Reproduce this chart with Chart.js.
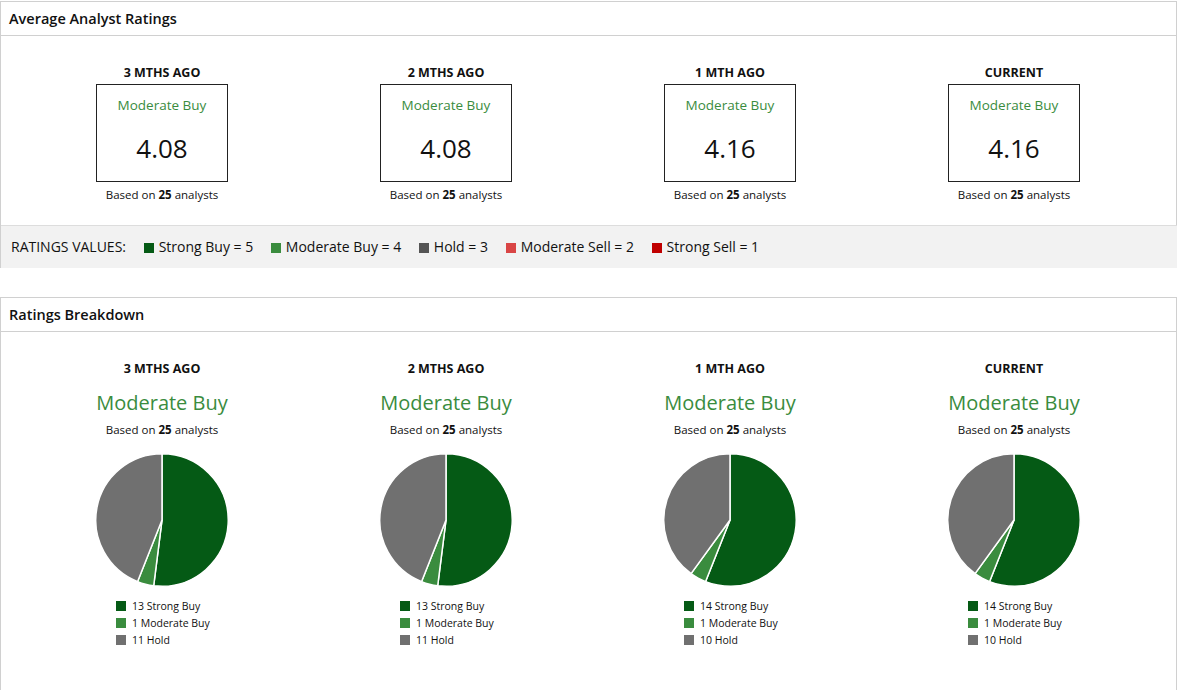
<!DOCTYPE html>
<html>
<head>
<meta charset="utf-8">
<script src="https://cdn.jsdelivr.net/npm/chart.js@4/dist/chart.umd.min.js"></script>
<style>
  body { margin: 0; width: 1177px; height: 690px; background: #fff; font-family: "Open Sans", "Noto Sans", sans-serif; color: #111; position: relative; overflow: hidden; }
  .panel { position: absolute; left: 0; width: 1175px; border: 1px solid #d0d0d0; }
  .hdr { height: 33px; border-bottom: 1px solid #d0d0d0; font-weight: 600; font-size: 14.5px; line-height: 33px; padding-left: 8px; }
  .abs { position: absolute; text-align: center; width: 260px; }
  .ttl { font-weight: 700; font-size: 12.5px; }
  .box { position: absolute; width: 130px; height: 96px; border: 1px solid #222; text-align: center; }
  .box .r { color: #3a8c3e; font-size: 13.5px; margin-top: 11px; }
  .box .v { font-size: 26px; margin-top: 16px; }
  .based { font-size: 11.5px; }
  .band { position: absolute; left: 0; top: 223px; width: 1175px; height: 42px; background: #f2f2f2; border-top: 1px solid #ddd; font-size: 14px; line-height: 42px; padding-left: 10px; }
  .band span.sq { display: inline-block; width: 10px; height: 10px; margin: 0 5px 0 0; vertical-align: -1px; }
  .band span.it { margin-left: 14px; }
  .big { color: #3a8c3e; font-size: 20px; }
  .leg { position: absolute; font-size: 10.5px; line-height: 17px; }
  .leg .sq { display: inline-block; width: 10px; height: 10px; margin-right: 6px; vertical-align: -1px; }
  canvas { position: absolute; }
</style>
</head>
<body>
<div class="panel" style="top:1px;height:265px;" id="p1"><div class="hdr">Average Analyst Ratings</div>
  <div class="band">RATINGS VALUES:
    <span class="it"><span class="sq" style="background:#055a15"></span>Strong Buy = 5</span>
    <span class="it"><span class="sq" style="background:#3a8c3e"></span>Moderate Buy = 4</span>
    <span class="it"><span class="sq" style="background:#555"></span>Hold = 3</span>
    <span class="it"><span class="sq" style="background:#d94545"></span>Moderate Sell = 2</span>
    <span class="it"><span class="sq" style="background:#c00000"></span>Strong Sell = 1</span>
  </div>
</div>
<div class="panel" style="top:297px;height:400px;" id="p2"><div class="hdr">Ratings Breakdown</div></div>
<script>
var periods = ["3 MTHS AGO", "2 MTHS AGO", "1 MTH AGO", "CURRENT"];
var ratingText = ["Moderate Buy", "Moderate Buy", "Moderate Buy", "Moderate Buy"];
var averages = ["4.08", "4.08", "4.16", "4.16"];
var analysts = [25, 25, 25, 25];
var sliceLabels = ["Strong Buy", "Moderate Buy", "Hold"];
var strongBuy = [13, 13, 14, 14];
var moderateBuy = [1, 1, 1, 1];
var hold = [11, 11, 10, 10];
var sliceColors = ["#055a15", "#3a8c3e", "#707070"];

var centers = [162, 446, 730, 1014];
function add(html, cls, x, y) {
  var d = document.createElement("div");
  d.className = cls;
  d.innerHTML = html;
  d.style.left = x + "px";
  d.style.top = y + "px";
  document.body.appendChild(d);
  return d;
}
periods.forEach(function (p, i) {
  var cx = centers[i];
  add(p, "abs ttl", cx - 130, 64);
  add('<div class="r">' + ratingText[i] + '</div><div class="v">' + averages[i] + '</div>', "box", cx - 66, 84);
  add('Based on <b>' + analysts[i] + '</b> analysts', "abs based", cx - 130, 187);

  add(p, "abs ttl", cx - 130, 360);
  add(ratingText[i], "abs big", cx - 130, 389);
  add('Based on <b>' + analysts[i] + '</b> analysts', "abs based", cx - 130, 422);

  var c = document.createElement("canvas");
  c.width = 140; c.height = 140;
  c.style.left = (cx - 70) + "px";
  c.style.top = "450px";
  document.body.appendChild(c);
  var vals = [strongBuy[i], moderateBuy[i], hold[i]];
  new Chart(c, {
    type: "pie",
    data: { labels: sliceLabels, datasets: [{ data: vals, backgroundColor: sliceColors, borderColor: "#fff", borderWidth: 1.5 }] },
    options: { responsive: false, animation: false, layout: { padding: 3 },
      plugins: { legend: { display: false }, tooltip: { enabled: false } } }
  });
  var leg = vals.map(function (v, k) {
    return '<div><span class="sq" style="background:' + sliceColors[k] + '"></span>' + v + ' ' + (k == 2 ? "Hold" : sliceLabels[k]) + '</div>';
  }).join("");
  add(leg, "leg", cx - 46, 598);
});
</script>
</body>
</html>
